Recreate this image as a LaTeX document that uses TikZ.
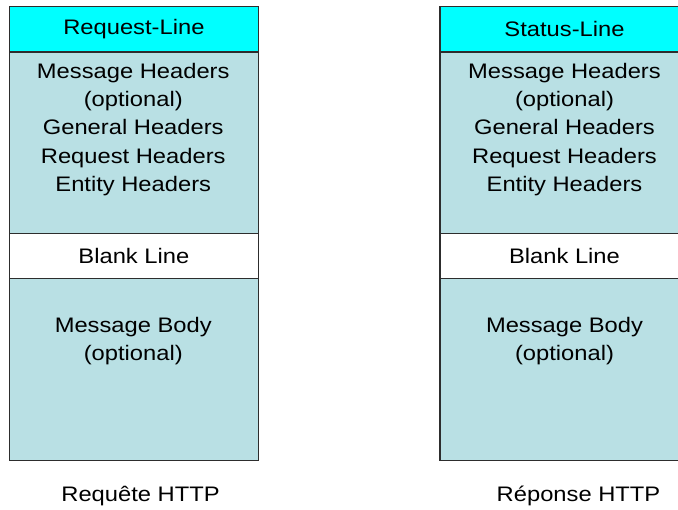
\documentclass[tikz,border=0pt]{standalone}
\usepackage{fontspec}
\setmainfont[FakeStretch=1.13]{Liberation Sans}
\definecolor{hdrcyan}{RGB}{0,255,255}
\definecolor{bandblue}{RGB}{185,224,228}
\definecolor{edgegray}{RGB}{45,45,45}
\begin{document}
\begin{tikzpicture}[x=1pt,y=-1pt,
  band/.style={draw=edgegray, line width=1.3pt, rectangle, inner sep=0pt,
               minimum width=249.5pt, anchor=north west},
  txt/.style={font=\fontsize{21}{28.3}\selectfont, align=center, inner sep=0pt},
]
\useasboundingbox (0,0) rectangle (678,510);
\clip (0,0) rectangle (678,510);

% HTTP request layout
\node[band, fill=bandblue, minimum height=182pt] (qbody) at (8.5,278) {};
\node[band, fill=white, minimum height=45pt] (qblank) at (8.5,233) {};
\node[band, fill=bandblue, minimum height=181.5pt] (qhead) at (8.5,51.5) {};
\node[band, fill=hdrcyan, minimum height=45.5pt] (qline) at (8.5,6) {};
\node[txt] (qlinet) at (qline.center) {Request-Line};
\node[txt] (qheadt) at (133.25,129.5) {Message Headers\\(optional)\\General Headers\\Request Headers\\Entity Headers};
\node[txt] (qblankt) at (qblank.center) {Blank Line};
\node[txt] (qbodyt) at (133.25,341) {Message Body\\(optional)};
\node[txt] (qcap) at (140.5,496) {Requête HTTP};

% HTTP response layout
\node[band, fill=bandblue, minimum height=182pt] (rbody) at (439.3,278) {};
\node[band, fill=white, minimum height=45pt] (rblank) at (439.3,233) {};
\node[band, fill=bandblue, minimum height=181.5pt] (rhead) at (439.3,51.5) {};
\node[band, fill=hdrcyan, minimum height=45.5pt] (rline) at (439.3,6) {};
\node[txt] (rlinet) at (564.5,29) {Status-Line};
\node[txt] (rheadt) at (564.5,129.5) {Message Headers\\(optional)\\General Headers\\Request Headers\\Entity Headers};
\node[txt] (rblankt) at (564.5,255.5) {Blank Line};
\node[txt] (rbodyt) at (564.5,341) {Message Body\\(optional)};
\node[txt] (rcap) at (578.5,496) {Réponse HTTP};
\end{tikzpicture}
\end{document}
